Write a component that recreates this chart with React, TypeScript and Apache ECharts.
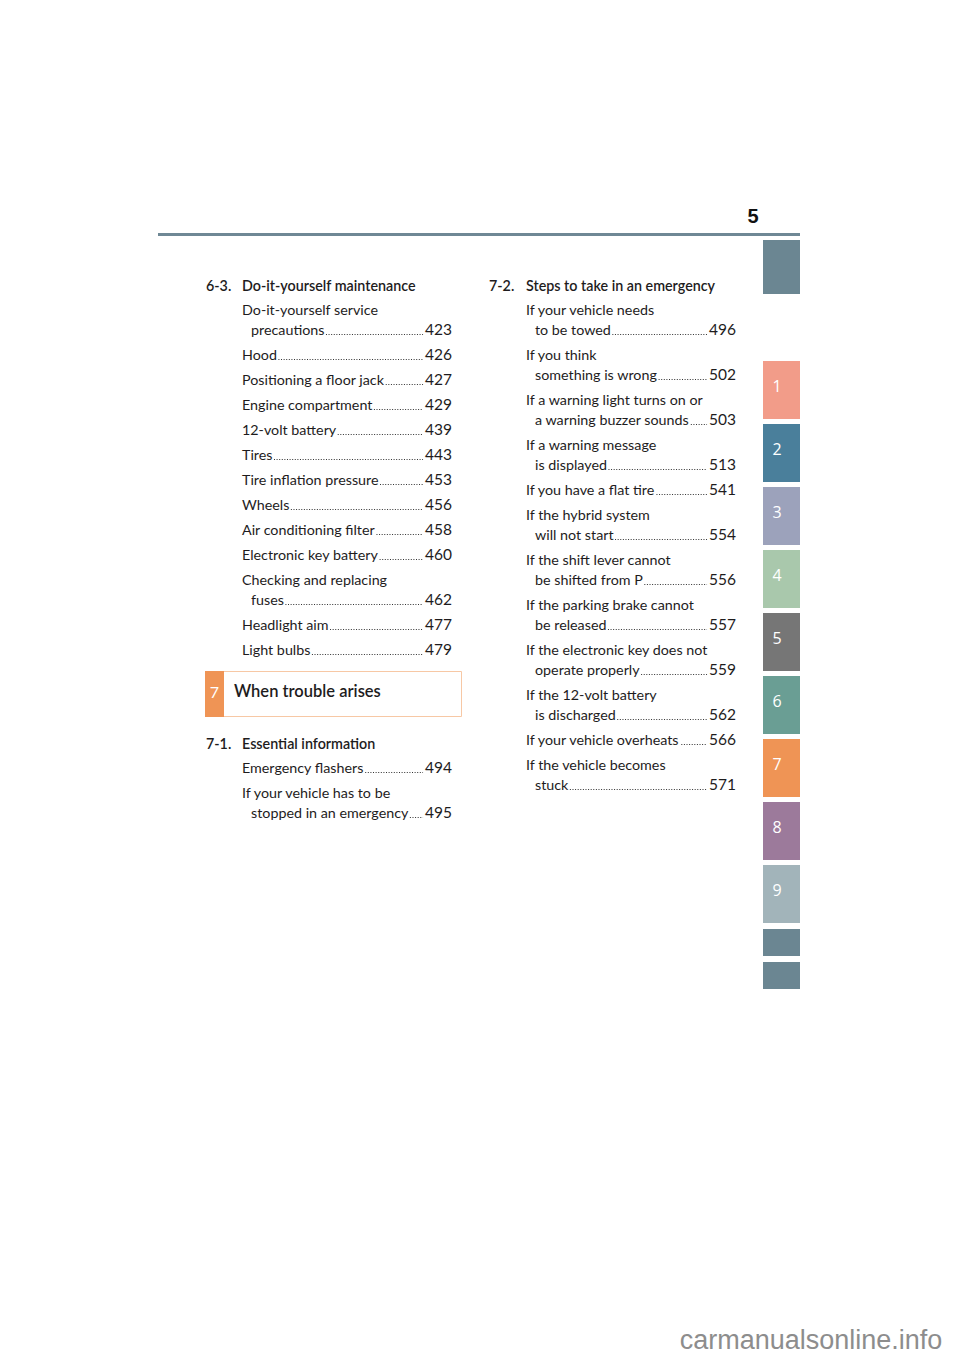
import React, { useEffect, useRef } from "react";
import * as echarts from "echarts";

const PAGE_NUMBER = "5";
const WATERMARK = "carmanualsonline.info";

const sectionLeftA = { num: "6-3.", title: "Do-it-yourself maintenance" };
const entriesLeftA = [
  { lines: ["Do-it-yourself service", "precautions"], page: "423" },
  { lines: ["Hood"], page: "426" },
  { lines: ["Positioning a floor jack"], page: "427" },
  { lines: ["Engine compartment"], page: "429" },
  { lines: ["12-volt battery"], page: "439" },
  { lines: ["Tires"], page: "443" },
  { lines: ["Tire inflation pressure"], page: "453" },
  { lines: ["Wheels"], page: "456" },
  { lines: ["Air conditioning filter"], page: "458" },
  { lines: ["Electronic key battery"], page: "460" },
  { lines: ["Checking and replacing", "fuses"], page: "462" },
  { lines: ["Headlight aim"], page: "477" },
  { lines: ["Light bulbs"], page: "479" },
];

const chapterBox = { num: "7", title: "When trouble arises" };

const sectionLeftB = { num: "7-1.", title: "Essential information" };
const entriesLeftB = [
  { lines: ["Emergency flashers"], page: "494" },
  { lines: ["If your vehicle has to be", "stopped in an emergency"], page: "495" },
];

const sectionRight = { num: "7-2.", title: "Steps to take in an emergency" };
const entriesRight = [
  { lines: ["If your vehicle needs", "to be towed"], page: "496" },
  { lines: ["If you think", "something is wrong"], page: "502" },
  { lines: ["If a warning light turns on or", "a warning buzzer sounds"], page: "503" },
  { lines: ["If a warning message", "is displayed"], page: "513" },
  { lines: ["If you have a flat tire"], page: "541" },
  { lines: ["If the hybrid system", "will not start"], page: "554" },
  { lines: ["If the shift lever cannot", "be shifted from P"], page: "556" },
  { lines: ["If the parking brake cannot", "be released"], page: "557" },
  { lines: ["If the electronic key does not", "operate properly"], page: "559" },
  { lines: ["If the 12-volt battery", "is discharged"], page: "562" },
  { lines: ["If your vehicle overheats"], page: "566" },
  { lines: ["If the vehicle becomes", "stuck"], page: "571" },
];

const tabLabels = ["", "1", "2", "3", "4", "5", "6", "7", "8", "9", "", ""];
const tabColors = [
  "#6b8692", "#f29c89", "#4a7f9b", "#9ca2bb", "#a9c8ac", "#767676",
  "#6a9e94", "#ef9455", "#9c7a9b", "#a2b4ba", "#6b8692", "#6b8692",
];

const TEXT_COLOR = "#1e1c1d";
const BODY_FONT_SIZE = 14.3;
const NUM_FONT_SIZE = 15.5;
const FONT_FAMILY = "Lato, 'Open Sans', sans-serif";

function measure(text: string, font: string): number {
  const c = document.createElement("canvas");
  const ctx = c.getContext("2d");
  if (!ctx) return text.length * 7;
  ctx.font = font;
  return ctx.measureText(text).width;
}

function buildColumn(
  section: { num: string; title: string },
  entries: { lines: string[]; page: string }[],
  startY: number,
  numX: number,
  textX: number,
  rightX: number
) {
  const els: any[] = [];
  const bodyFont = `${BODY_FONT_SIZE}px ${FONT_FAMILY}`;
  const numFont = `${NUM_FONT_SIZE}px ${FONT_FAMILY}`;
  els.push({
    type: "text",
    x: numX,
    y: startY,
    style: { text: section.num, font: `600 ${BODY_FONT_SIZE}px ${FONT_FAMILY}`, fill: TEXT_COLOR, textVerticalAlign: "middle" },
  });
  els.push({
    type: "text",
    x: textX,
    y: startY,
    style: { text: section.title, font: `600 ${BODY_FONT_SIZE}px ${FONT_FAMILY}`, fill: TEXT_COLOR, textVerticalAlign: "middle" },
  });
  let y = startY + 25;
  entries.forEach((e) => {
    e.lines.forEach((ln, i) => {
      const x = i === 0 ? textX : textX + 9;
      els.push({
        type: "text",
        x,
        y: y - 0.5,
        style: { text: ln, font: bodyFont, fill: TEXT_COLOR, textVerticalAlign: "middle" },
      });
      if (i === e.lines.length - 1) {
        els.push({
          type: "text",
          x: rightX,
          y: y - 1,
          style: { text: e.page, font: numFont, fill: TEXT_COLOR, textAlign: "right", textVerticalAlign: "middle" },
        });
        const endText = x + measure(ln, bodyFont) + 1.5;
        const startNum = rightX - measure(e.page, numFont) - 2;
        if (startNum > endText) {
          els.push({
            type: "line",
            shape: { x1: endText, y1: y + 4.5, x2: startNum, y2: y + 4.5 },
            style: { stroke: "#333", lineWidth: 1.1, lineDash: [1, 1.6] },
          });
        }
        y += 25;
      } else {
        y += 20;
      }
    });
  });
  return els;
}

export default function App() {
  const ref = useRef<HTMLDivElement>(null);
  useEffect(() => {
    if (!ref.current) return;
    document.body.style.margin = "0";
    const chart = echarts.init(ref.current, undefined, { renderer: "svg" });
    const els: any[] = [];

    // page number and rule
    els.push({
      type: "text",
      x: 753,
      y: 216,
      style: { text: PAGE_NUMBER, font: "bold 20px 'Liberation Sans', Arial, sans-serif", fill: "#111", textAlign: "center", textVerticalAlign: "middle" },
    });
    els.push({ type: "rect", shape: { x: 158, y: 233, width: 642, height: 3 }, style: { fill: "#6f8895" } });

    // tabs
    const tabYs = [240, 361, 424, 487, 550, 613, 676, 739, 802, 865, 929, 962];
    const tabHs = [54, 58, 58, 58, 58, 58, 58, 58, 58, 58, 27, 27];
    tabYs.forEach((ty, i) => {
      els.push({ type: "rect", shape: { x: 763, y: ty, width: 37, height: tabHs[i] }, style: { fill: tabColors[i] } });
      if (tabLabels[i]) {
        els.push({
          type: "text",
          x: 777,
          y: ty + 25,
          style: { text: tabLabels[i], font: `16px 'Open Sans', ${FONT_FAMILY}`, fill: "#fff", textAlign: "center", textVerticalAlign: "middle" },
        });
      }
    });

    // left column
    els.push(...buildColumn(sectionLeftA, entriesLeftA, 285, 206, 242, 452));

    // chapter box
    els.push({ type: "rect", shape: { x: 205.5, y: 671.5, width: 256, height: 45 }, style: { fill: "#fff", stroke: "#f7c8a5", lineWidth: 1 } });
    els.push({ type: "rect", shape: { x: 205, y: 671, width: 19, height: 46 }, style: { fill: "#ef9455" } });
    els.push({
      type: "text",
      x: 214.5,
      y: 691,
      style: { text: chapterBox.num, font: `16px ${FONT_FAMILY}`, fill: "#fff", textAlign: "center", textVerticalAlign: "middle" },
    });
    els.push({
      type: "text",
      x: 234,
      y: 691,
      style: { text: chapterBox.title, font: `600 16.5px ${FONT_FAMILY}`, fill: TEXT_COLOR, textVerticalAlign: "middle" },
    });

    els.push(...buildColumn(sectionLeftB, entriesLeftB, 743, 206, 242, 452));

    // right column
    els.push(...buildColumn(sectionRight, entriesRight, 285, 489, 526, 736));

    // watermark
    els.push({
      type: "text",
      x: 811,
      y: 1340,
      style: { text: WATERMARK, font: "27px 'Liberation Sans', Arial, sans-serif", fill: "#8d8d8d", textAlign: "center", textVerticalAlign: "middle" },
    });

    chart.setOption({
      animation: false,
      backgroundColor: "#ffffff",
      graphic: { elements: els },
    });
    return () => chart.dispose();
  }, []);
  return <div ref={ref} style={{ position: "absolute", left: 0, top: 0, width: 960, height: 1358 }} />;
}
